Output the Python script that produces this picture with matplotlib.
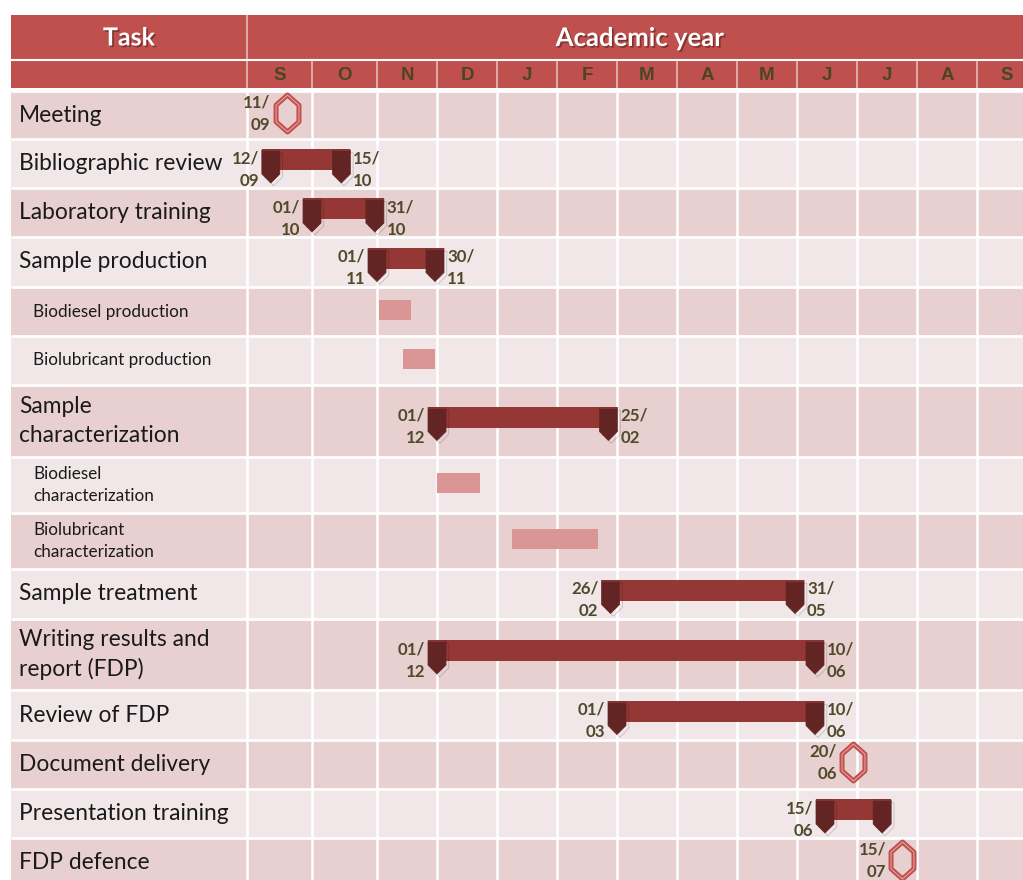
import numpy as np
import matplotlib
matplotlib.use("Agg")
import matplotlib.pyplot as plt
from matplotlib.patches import Rectangle
from matplotlib.path import Path
from matplotlib import transforms
import matplotlib.patheffects as pe

# ---- data ----
tasks = ["Meeting", "Bibliographic review", "Laboratory training", "Sample production",
         "Biodiesel production", "Biolubricant production", "Sample\ncharacterization",
         "Biodiesel\ncharacterization", "Biolubricant\ncharacterization", "Sample treatment",
         "Writing results and\nreport (FDP)", "Review of FDP", "Document delivery",
         "Presentation training", "FDP defence"]
subtask = [False, False, False, False, True, True, False, True, True,
           False, False, False, False, False, False]
months = ["S", "O", "N", "D", "J", "F", "M", "A", "M", "J", "J", "A", "S"]

# main phases (dd/mm)
main_rows = [1, 2, 3, 6, 9, 10, 11, 13]
main_start = ["12/09", "01/10", "01/11", "01/12", "26/02", "01/12", "01/03", "15/06"]
main_end = ["15/10", "31/10", "30/11", "25/02", "31/05", "10/06", "10/06", "14/07"]
end_label = [True, True, True, True, True, True, True, False]

# sub tasks (no labels)
sub_rows = [4, 5, 7, 8]
sub_start = ["02/11", "14/11", "01/12", "09/01"]
sub_end = ["18/11", "30/11", "23/12", "20/02"]

# milestones
ms_rows = [0, 12, 14]
ms_dates = ["11/09", "20/06", "15/07"]

# ---- layout ----
W, H = 1023, 880
edges_m = [-2, -1] + list(range(0, 14))
edges_px = [-225, 11, 247, 312, 377, 437, 497, 557, 617, 677, 737, 797, 857, 917, 977, 1037]
row_h = [48, 49, 49, 50, 49, 49, 72, 56, 56, 50, 71, 50, 49, 49, 49]
body_top = 91

HEAD = "#C0504D"
ROW_DARK = "#E8D0D1"
ROW_LIGHT = "#F2E7E8"
BAR = "#953735"
CAP = "#632523"
SUB = "#D99694"
TXT = "#4F4A2A"

days_in = [30, 31, 30, 31, 31, 28, 31, 30, 31, 30, 31, 31, 30]


def to_month(s):
    d, m = [int(v) for v in s.split("/")]
    i = (m - 9) % 12
    return i + (d - 1) / days_in[i]


def fwd(x):
    return np.interp(x, edges_m, edges_px)


def inv(p):
    return np.interp(p, edges_px, edges_m)


fig = plt.figure(figsize=(W / 100, H / 100), dpi=100)
ax = fig.add_axes([0, 0, 1, 1])
ax.set_xscale("function", functions=(fwd, inv))
x_left, x_right = float(inv(0)), float(inv(W))
ax.set_xlim(x_left, x_right)
ax.set_ylim(H, 0)
ax.axis("off")

# header
ax.add_patch(Rectangle((-1, 15), x_right + 1.5, 44.5, color=HEAD, lw=0, zorder=0.5))
ax.add_patch(Rectangle((-1, 61), x_right + 1.5, 27.5, color=HEAD, lw=0, zorder=0.5))
ax.vlines(0, 15, 59.5, color="#E6B9B8", lw=1.2, zorder=1)
ax.vlines(range(0, 13), 61, 88.5, color="#E6B9B8", lw=1.2, zorder=1)

shadow = [pe.withSimplePatchShadow(offset=(1.2, -1.2), shadow_rgbFace="#5a1e1c", alpha=0.6)]
ax.text(-0.5, 38, "Task", ha="center", va="center", color="white", fontsize=18,
        fontweight="bold", family="Lato", path_effects=shadow, zorder=5)
ax.text(x_right / 2, 38, "Academic year", ha="center", va="center", color="white",
        fontsize=18.5, fontweight="bold", family="Lato", path_effects=shadow, zorder=5)
for i, m in enumerate(months):
    ax.text(i + 0.5, 75, m, ha="center", va="center", color="#4A4526", fontsize=13.5,
            fontweight="bold", family="Liberation Sans", zorder=5)

# body rows
tops = body_top + np.concatenate([[0], np.cumsum(row_h)])
centers = (tops[:-1] + tops[1:]) / 2
for r, label in enumerate(tasks):
    ax.add_patch(Rectangle((-1, tops[r]), x_right + 1.5, row_h[r],
                           color=ROW_DARK if r % 2 == 0 else ROW_LIGHT, lw=0, zorder=0.5))
    if subtask[r]:
        tr = transforms.offset_copy(ax.transData, fig=fig, x=22, y=0, units="dots")
        ax.text(-1, centers[r], label, transform=tr, ha="left", va="center",
                fontsize=12.3, family="Lato", color="#1a1a1a", linespacing=1.5, zorder=5)
    else:
        tr = transforms.offset_copy(ax.transData, fig=fig, x=8, y=0, units="dots")
        ax.text(-1, centers[r], label, transform=tr, ha="left", va="center",
                fontsize=16.4, family="Lato", color="#1a1a1a", linespacing=1.42, zorder=5)

ax.hlines(tops, -1, x_right + 0.5, color="white", lw=2, zorder=1)
ax.vlines(range(0, 13), body_top, H, color="white", lw=1.8, zorder=1)
ax.hlines(60, -1, x_right + 0.5, color="white", lw=1.5, zorder=1)

# shapes
cap_path = Path([(-0.545, 1), (0.545, 1), (0.545, -0.455), (0, -1), (-0.545, -0.455), (-0.545, 1)],
                [Path.MOVETO, Path.LINETO, Path.LINETO, Path.LINETO, Path.LINETO, Path.CLOSEPOLY])
cap_top = Path([(-0.545, 1), (0.545, 1), (0.545, 0.9), (-0.545, 0.9), (-0.545, 1)],
               [Path.MOVETO, Path.LINETO, Path.LINETO, Path.LINETO, Path.CLOSEPOLY])
hex_path = Path([(0, 1), (0.62, 0.45), (0.62, -0.45), (0, -1), (-0.62, -0.45), (-0.62, 0.45), (0, 1)],
                [Path.MOVETO] + [Path.LINETO] * 5 + [Path.CLOSEPOLY])
cap_fx = [pe.SimpleLineShadow(offset=(2, -2), shadow_color="k", alpha=0.22), pe.Normal()]


def date_text(s):
    d, m = s.split("/")
    return d + "/\n" + m


# sub task bars
for r, s, e in zip(sub_rows, sub_start, sub_end):
    x0, x1 = to_month(s), to_month(e)
    ax.barh(centers[r] - 1.5, x1 - x0, left=x0, height=20, color=SUB, lw=0, zorder=3)

# main phases
for r, s, e, lab in zip(main_rows, main_start, main_end, end_label):
    x0, x1 = to_month(s), to_month(e)
    yc = centers[r]
    ax.barh(yc - 3.5, x1 - x0, left=x0, height=21, color=BAR, lw=0, zorder=3)
    ax.plot([x0, x1], [yc + 3, yc + 3], ls="none", marker=cap_path, ms=23.8,
            mfc=CAP, mec=CAP, mew=0.5, path_effects=cap_fx, zorder=4)
    ax.plot([x0, x1], [yc + 3, yc + 3], ls="none", marker=cap_top, ms=23.8,
            mfc="#853230", mew=0, zorder=4.1)
    tl = transforms.offset_copy(ax.transData, fig=fig, x=-12, y=0, units="dots")
    ax.text(x0, yc + 6, date_text(s), transform=tl, ha="right", va="center",
            fontsize=12.2, fontweight="bold", family="Lato", color=TXT,
            linespacing=1.5, zorder=5)
    if lab:
        trr = transforms.offset_copy(ax.transData, fig=fig, x=12, y=0, units="dots")
        ax.text(x1, yc + 6, date_text(e), transform=trr, ha="left", va="center",
                fontsize=12.2, fontweight="bold", family="Lato", color=TXT,
                linespacing=1.5, zorder=5)

# milestones
for r, s in zip(ms_rows, ms_dates):
    x = to_month(s)
    yc = centers[r]
    th = transforms.offset_copy(ax.transData, fig=fig, x=18, y=0, units="dots")
    ax.plot([x], [yc - 2], ls="none", marker=hex_path, ms=26.6, mfc="none",
            mec=HEAD, mew=3.6, transform=th, zorder=4)
    ax.plot([x], [yc - 2], ls="none", marker=hex_path, ms=26.6, mfc="none",
            mec="#EBA9A7", mew=0.7, transform=th, zorder=4.1)
    tl = transforms.offset_copy(ax.transData, fig=fig, x=2, y=0, units="dots")
    ax.text(x, yc - 1.5, date_text(s), transform=tl, ha="right", va="center",
            fontsize=12.2, fontweight="bold", family="Lato", color=TXT,
            linespacing=1.5, zorder=5)

fig.savefig("out.png", dpi=100)
